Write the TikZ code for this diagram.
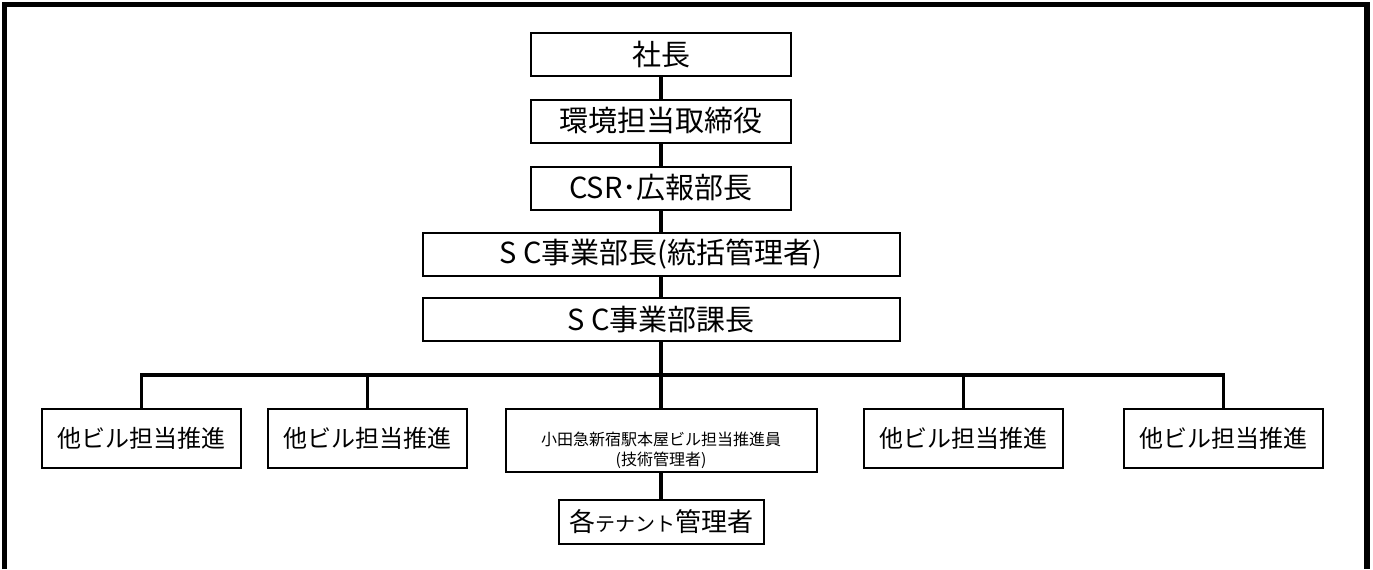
\documentclass[tikz,border=0pt]{standalone}
\usepackage{fontspec}
\setmainfont{Noto Sans CJK JP}
\usepackage{tikz}

\tikzset{
  post/.style={draw, line width=1pt, inner sep=0pt, minimum width=130pt,
    minimum height=21.5pt, font=\fontsize{14.5}{17}\selectfont},
  widepost/.style={post, minimum width=238.5pt},
  member/.style={draw, line width=1pt, inner sep=0pt, minimum width=99.5pt,
    minimum height=29.5pt, font=\fontsize{12}{14}\selectfont},
  link/.style={line width=1.6pt},
}

\begin{document}
\begin{tikzpicture}[x=0.5pt,y=-0.5pt]
  \useasboundingbox (0,0) rectangle (1373,569);
  \fill[white] (0,0) rectangle (1373,569);
  \draw[line width=2.75pt] (4.5,569) -- (4.5,4.5) -- (1367,4.5) -- (1367,569);

  % chain of command
  \node[post] (shacho) at (661,54.5) {社長};
  \node[post] (torishimari) at (661,121) {環境担当取締役};
  \node[post] (csr) at (661,188) {CSR･広報部長};
  \node[widepost] (bucho) at (661,254) {S C事業部長(統括管理者)};
  \node[widepost] (kacho) at (661,319.5) {S C事業部課長};

  % promoters
  \node[member] (b1) at (141.5,438.5) {他ビル担当推進};
  \node[member] (b2) at (367.5,438.5) {他ビル担当推進};
  \node[member, minimum width=155.5pt, minimum height=31.5pt] (b3) at (661,440.5) {};
  \node[font=\fontsize{8}{10}\selectfont, align=center] (b3text) at ([yshift=-5pt]b3.center)
    {小田急新宿駅本屋ビル担当推進員\\(技術管理者)};
  \node[member] (b4) at (963.5,438.5) {他ビル担当推進};
  \node[member] (b5) at (1223.5,438.5) {他ビル担当推進};

  \node[draw, line width=1pt, inner sep=0pt, minimum width=102.5pt, minimum height=22pt,
    font=\fontsize{13}{15}\selectfont] (tenant) at (661,522)
    {各{\fontsize{10}{12}\selectfont テナント}管理者};

  \draw[link] (shacho) -- (torishimari);
  \draw[link] (torishimari) -- (csr);
  \draw[link] (csr) -- (bucho);
  \draw[link] (bucho) -- (kacho);
  \draw[link] (kacho) -- (b3);
  \draw[link] (b3) -- (tenant);

  \coordinate (bus) at (661,375);
  \draw[link] (b1.north) |- (bus) -| (b5.north);
  \foreach \b in {b2,b4}
    \draw[link] (\b.north) -- (\b.north |- bus);
\end{tikzpicture}
\end{document}
